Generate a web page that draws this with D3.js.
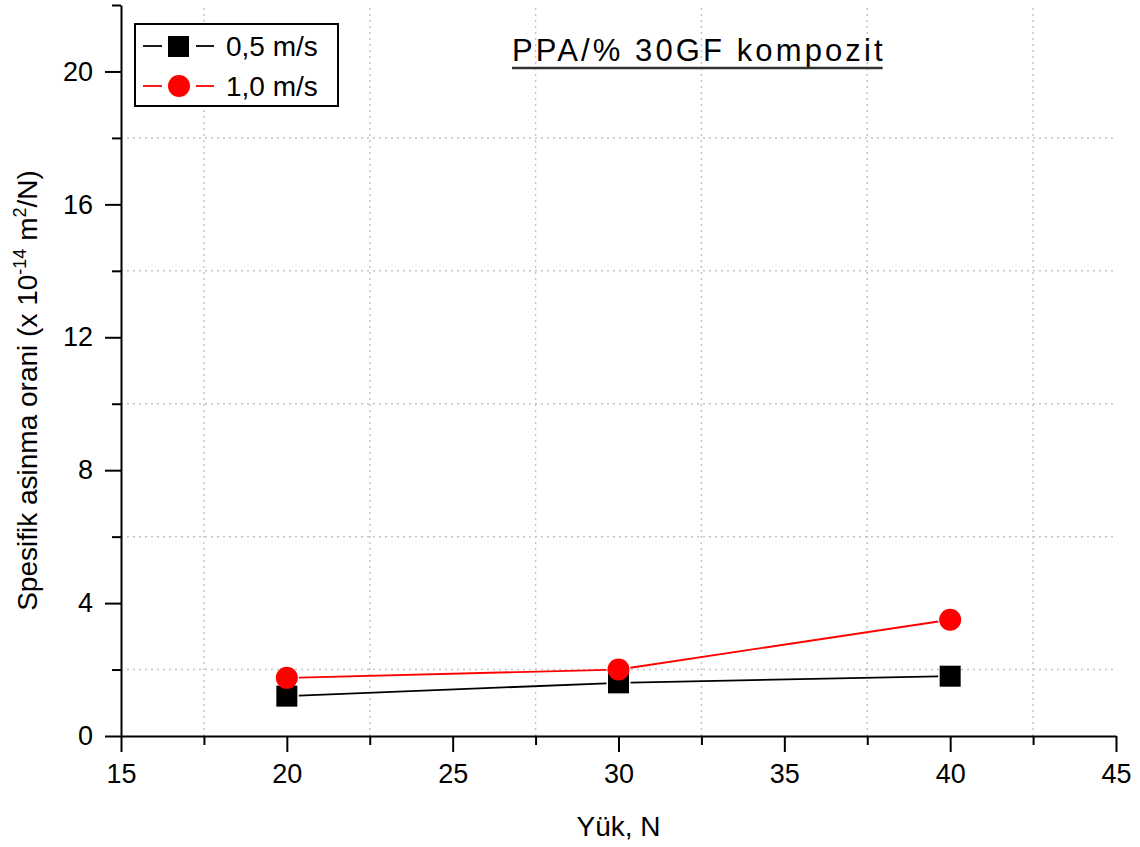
<!DOCTYPE html>
<html>
<head>
<meta charset="utf-8">
<script src="https://cdn.jsdelivr.net/npm/d3@7"></script>
<style>
  body { margin: 0; background: #fff; }
  text { font-family: "Liberation Sans", Arial, sans-serif; fill: #000; }
</style>
</head>
<body>
<svg id="chart"></svg>
<script>
// data
let loads = [20, 30, 40];
let rate05 = [1.2, 1.6, 1.8];
let rate10 = [1.75, 2.0, 3.5];
let seriesNames = ["0,5 m/s", "1,0 m/s"];
let xTicks = [15, 20, 25, 30, 35, 40, 45];
let yTicks = [0, 4, 8, 12, 16, 20];

let width = 1140, height = 847;
let margin = {left: 121, right: 24, top: 5, bottom: 111};

let svg = d3.select("#chart")
    .attr("width", width)
    .attr("height", height);

let x = d3.scaleLinear().domain([15, 45]).range([margin.left, width - margin.right]);
let y = d3.scaleLinear().domain([0, 22]).range([height - margin.bottom, margin.top]);

// dotted grid at the minor positions
let xMinor = d3.range(17.5, 45, 5);
let yMinor = d3.range(2, 22, 4);
let grid = svg.append("g").attr("class", "grid")
    .attr("stroke", "#c4c4c4")
    .attr("stroke-width", 1.5)
    .attr("stroke-dasharray", "2,4");
grid.selectAll("line.v").data(xMinor).enter().append("line")
    .attr("x1", d => x(d)).attr("x2", d => x(d))
    .attr("y1", y(0)).attr("y2", y(22));
grid.selectAll("line.h").data(yMinor).enter().append("line")
    .attr("x1", x(15)).attr("x2", x(45))
    .attr("y1", d => y(d)).attr("y2", d => y(d));

// axes
svg.append("g")
    .attr("transform", `translate(0,${y(0)})`)
    .call(d3.axisBottom(x).tickValues(xTicks).tickSize(16).tickSizeOuter(0).tickPadding(12));
svg.append("g")
    .attr("transform", `translate(0,${y(0)})`)
    .call(d3.axisBottom(x).tickValues(d3.range(17.5, 45, 5)).tickSize(9).tickSizeOuter(0).tickFormat(""))
    .select(".domain").remove();

svg.append("g")
    .attr("transform", `translate(${x(15)},0)`)
    .call(d3.axisLeft(y).tickValues(yTicks).tickSize(16).tickSizeOuter(0).tickPadding(12));
svg.append("g")
    .attr("transform", `translate(${x(15)},0)`)
    .call(d3.axisLeft(y).tickValues(d3.range(2, 23, 4)).tickSize(9).tickSizeOuter(0).tickFormat(""))
    .select(".domain").remove();

svg.selectAll(".domain, .tick line")
    .attr("stroke", "#000")
    .attr("stroke-width", 2);
svg.selectAll(".tick text")
    .style("font-family", "'Liberation Sans', Arial, sans-serif")
    .style("font-size", "27px")
    .attr("fill", "#000");

// axis titles
svg.append("text")
    .attr("x", x(30))
    .attr("y", 836)
    .attr("text-anchor", "middle")
    .style("font-size", "28px")
    .text("Yük, N");

let yt = svg.append("text")
    .attr("transform", `translate(37,${(y(0) + y(22)) / 2 + 20}) rotate(-90)`)
    .attr("text-anchor", "middle")
    .style("font-size", "28px");
yt.append("tspan").text("Spesifik asinma orani (x 10");
yt.append("tspan").attr("dy", -11).style("font-size", "18px").text("-14");
yt.append("tspan").attr("dy", 11).text(" m");
yt.append("tspan").attr("dy", -11).style("font-size", "18px").text("2");
yt.append("tspan").attr("dy", 11).text("/N)");

// title
let title = svg.append("text")
    .attr("x", 512)
    .attr("y", 61)
    .style("font-size", "31px")
    .style("letter-spacing", "3.1px")
    .text("PPA/% 30GF kompozit");
let tb = title.node().getBBox();
svg.append("line")
    .attr("x1", tb.x).attr("x2", tb.x + tb.width - 3)
    .attr("y1", 68).attr("y2", 68)
    .attr("stroke", "#333").attr("stroke-width", 2.5);

// series
let series = [
    {name: seriesNames[0], values: rate05, color: "#000", shape: "square"},
    {name: seriesNames[1], values: rate10, color: "#ff0000", shape: "circle"}
];

let gap = 12;
series.forEach(s => {
    let pts = loads.map((l, i) => [x(l), y(s.values[i])]);
    // line segments stop short of the markers
    for (let i = 0; i < pts.length - 1; i++) {
        let [x1, y1] = pts[i], [x2, y2] = pts[i + 1];
        let len = Math.hypot(x2 - x1, y2 - y1);
        let ux = (x2 - x1) / len, uy = (y2 - y1) / len;
        svg.append("line")
            .attr("x1", x1 + ux * gap).attr("y1", y1 + uy * gap)
            .attr("x2", x2 - ux * gap).attr("y2", y2 - uy * gap)
            .attr("stroke", s.color)
            .attr("stroke-width", 1.8);
    }
});

series.forEach(s => {
    let g = svg.append("g");
    if (s.shape === "square") {
        g.selectAll("rect").data(loads).enter().append("rect")
            .attr("x", d => x(d) - 10.5)
            .attr("y", (d, i) => y(s.values[i]) - 10.5)
            .attr("width", 21).attr("height", 21)
            .attr("fill", s.color);
    } else {
        g.selectAll("circle").data(loads).enter().append("circle")
            .attr("cx", d => x(d))
            .attr("cy", (d, i) => y(s.values[i]))
            .attr("r", 11)
            .attr("fill", s.color);
    }
});

// legend
let legend = svg.append("g");
legend.append("rect")
    .attr("x", 135).attr("y", 24)
    .attr("width", 203).attr("height", 82)
    .attr("fill", "#fff")
    .attr("stroke", "#000")
    .attr("stroke-width", 2);
series.forEach((s, i) => {
    let cy = 46 + i * 40;
    let row = legend.append("g");
    row.append("line").attr("x1", 143).attr("x2", 162).attr("y1", cy).attr("y2", cy)
        .attr("stroke", s.color).attr("stroke-width", 1.8);
    row.append("line").attr("x1", 196).attr("x2", 214).attr("y1", cy).attr("y2", cy)
        .attr("stroke", s.color).attr("stroke-width", 1.8);
    if (s.shape === "square") {
        row.append("rect").attr("x", 168).attr("y", cy - 10).attr("width", 21).attr("height", 21)
            .attr("fill", s.color);
    } else {
        row.append("circle").attr("cx", 179).attr("cy", cy).attr("r", 11).attr("fill", s.color);
    }
    row.append("text")
        .attr("x", 226).attr("y", cy + 10)
        .style("font-size", "28px")
        .text(s.name);
});
</script>
</body>
</html>
